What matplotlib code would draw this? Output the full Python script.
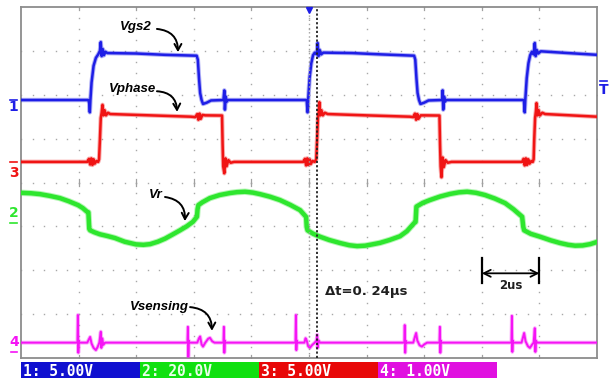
import matplotlib
matplotlib.use("Agg")
import matplotlib.pyplot as plt
from matplotlib.patches import Rectangle
from matplotlib.lines import Line2D

W, H, DPI = 614, 378, 100

# ---------------- scope settings ----------------
time_per_div = 2.0            # us / div
n_xdiv, n_ydiv = 10, 8
volts_per_div = {"1": 5.0, "2": 20.0, "3": 5.0, "4": 1.0}
ground_div = {"1": 1.88, "2": -0.81, "3": 0.47, "4": -3.65}
scale_labels = ["1: 5.00V", "2: 20.0V", "3: 5.00V", "4: 1.00V"]
trigger_t = 10.0              # us
cursor_t = 10.27              # us
delta_label = "\u0394t=0. 24\u00b5s"
span_label = "2us"
span_t = [16.0, 18.0]

# ---------------- Ch1 : Vgs2 ----------------
vgs2_t = [0.00, 2.34, 2.37, 2.39, 2.41, 2.45, 2.52, 2.60, 2.68, 2.74, 2.77, 2.80, 2.84, 2.88, 2.93, 3.00,
          4.00, 5.00, 6.10, 6.14, 6.18, 6.22, 6.27, 6.32, 6.45, 6.60, 7.03, 7.06, 7.08, 7.11, 7.14, 7.18,
          9.92, 9.95, 9.97, 10.02, 10.08, 10.14, 10.20, 10.27, 10.30, 10.33, 10.37, 10.42, 10.50,
          11.50, 12.50, 13.65, 13.69, 13.73, 13.77, 13.82, 13.87, 14.00, 14.15, 14.62, 14.64, 14.66, 14.69, 14.72, 14.76,
          17.46, 17.49, 17.51, 17.56, 17.62, 17.68, 17.74, 17.80, 17.84, 17.87, 17.91, 17.96, 18.05, 19.00, 20.00]
vgs2_v = [0.0, 0.0, -0.4, -1.4, 0.0, 2.0, 3.9, 4.8, 5.2, 5.6, 6.6, 5.0, 5.8, 5.1, 5.5, 5.35,
          5.3, 5.15, 5.05, 4.6, 2.5, 0.8, 0.0, -0.45, -0.3, -0.05, 0.0, 1.1, -1.1, 0.4, -0.2, 0.0,
          0.0, -1.4, 0.0, 2.5, 4.2, 5.1, 5.4, 5.2, 6.5, 5.0, 5.7, 5.2, 5.4,
          5.35, 5.2, 5.05, 4.6, 2.5, 0.8, 0.0, -0.45, -0.3, -0.05, 0.0, 1.1, -1.1, 0.4, -0.2, 0.0,
          0.0, -1.4, 0.0, 2.5, 4.2, 5.1, 5.5, 5.2, 6.5, 5.0, 5.7, 5.3, 5.55, 5.35, 5.15]

# ---------------- Ch3 : Vphase ----------------
vphase_t = [0.00, 2.30, 2.36, 2.40, 2.44, 2.48, 2.52, 2.56, 2.62, 2.68, 2.71, 2.74, 2.77, 2.80, 2.83, 2.86, 2.90, 2.95, 3.02, 3.10,
            4.50, 5.90, 6.05, 6.12, 6.16, 6.20, 6.24, 6.30, 6.40, 6.98, 7.00, 7.02, 7.06, 7.10, 7.14, 7.20, 7.28, 7.40,
            9.80, 9.86, 9.90, 9.94, 9.98, 10.02, 10.06, 10.12, 10.20, 10.25, 10.28, 10.31, 10.34, 10.36, 10.39, 10.43, 10.48, 10.55, 10.65,
            12.00, 13.50, 13.62, 13.68, 13.72, 13.76, 13.80, 13.88, 14.00, 14.53, 14.55, 14.57, 14.60, 14.64, 14.68, 14.74, 14.82, 14.95,
            17.40, 17.45, 17.49, 17.53, 17.57, 17.61, 17.66, 17.72, 17.77, 17.80, 17.82, 17.85, 17.88, 17.90, 17.93, 17.97, 18.02, 18.10, 18.20, 20.00]
vphase_v = [0.0, 0.0, 0.35, -0.3, 0.4, -0.35, 0.3, -0.2, 0.1, 0.0, 0.3, 2.5, 5.0, 5.6, 6.5, 5.3, 5.9, 5.3, 5.6, 5.45,
            5.3, 5.15, 5.1, 5.45, 4.8, 5.5, 4.9, 5.35, 5.3, 5.28, 2.0, -0.5, -1.3, 0.4, -0.5, 0.2, -0.1, 0.0,
            0.0, 0.35, -0.4, 0.4, -0.35, 0.3, -0.25, 0.1, 0.0, 0.3, 2.5, 5.0, 5.8, 6.8, 5.3, 5.9, 5.3, 5.6, 5.45,
            5.3, 5.15, 5.1, 5.5, 4.8, 5.45, 4.9, 5.3, 5.3, 5.28, 2.0, -0.5, -1.75, 0.5, -0.6, 0.2, -0.1, 0.0,
            0.0, 0.35, -0.4, 0.4, -0.35, 0.3, -0.2, 0.1, 0.0, 0.3, 2.5, 5.0, 5.8, 6.7, 5.3, 5.9, 5.3, 5.6, 5.45, 5.15]

# ---------------- Ch2 : Vr ----------------
vr_t = [0.00, 0.35, 0.66, 1.00, 1.35, 1.65, 1.98, 2.15, 2.29, 2.34, 2.37, 2.40,
        2.55, 2.74, 3.00, 3.26, 3.60, 3.99, 4.25, 4.48, 4.75, 5.00, 5.25, 5.52, 5.75, 5.97, 6.11, 6.13, 6.16,
        6.30, 6.56, 6.90, 7.26, 7.50, 7.78, 8.05, 8.30, 8.65, 8.99, 9.35, 9.69, 9.90, 9.92, 9.95,
        10.15, 10.38, 10.70, 11.08, 11.40, 11.67, 11.95, 12.20, 12.47, 12.80, 13.16, 13.40, 13.65, 13.70, 13.73,
        13.95, 14.20, 14.55, 14.90, 15.20, 15.49, 15.80, 16.11, 16.45, 16.81, 17.10, 17.40, 17.44, 17.47,
        17.70, 18.02, 18.40, 18.72, 19.00, 19.24, 19.50, 19.76, 20.00]
vr_v = [11.5, 11.3, 10.9, 10.1, 9.1, 7.7, 5.9, 4.5, 2.9, 2.6, -5.0, -5.6,
        -6.5, -7.4, -8.2, -9.1, -10.8, -12.0, -12.2, -11.9, -10.8, -9.4, -7.6, -5.6, -3.8, -1.7, 0.6, 4.0, 5.9,
        7.2, 9.1, 10.5, 11.4, 11.8, 12.0, 11.6, 10.9, 9.7, 8.2, 6.0, 3.6, 0.5, -4.0, -5.6,
        -7.2, -8.5, -10.0, -11.4, -12.4, -12.8, -12.6, -12.0, -11.3, -10.0, -8.3, -6.0, -2.3, -1.8, 5.2,
        6.9, 8.2, 9.8, 11.0, 11.7, 12.0, 11.5, 10.5, 8.9, 6.8, 4.0, 0.6, -4.0, -5.6,
        -7.2, -8.5, -10.2, -11.4, -12.2, -12.6, -12.5, -11.9, -10.9]

# ---------------- Ch4 : Vsensing ----------------
vsen_t = [0.00, 1.96, 1.975, 1.99, 2.005, 2.02,
          2.30, 2.36, 2.40, 2.45, 2.52, 2.60, 2.66, 2.72, 2.77, 2.79, 2.82, 2.86, 2.92,
          5.78, 5.795, 5.81, 5.825, 5.84,
          6.12, 6.18, 6.22, 6.27, 6.32, 6.40, 6.50, 6.56, 6.64, 6.72,
          7.03, 7.045, 7.06, 7.075, 7.09,
          9.53, 9.545, 9.56, 9.575, 9.59,
          9.84, 9.88, 9.92, 9.97, 10.03, 10.10, 10.20, 10.26, 10.285, 10.30, 10.33, 10.38,
          13.31, 13.325, 13.34, 13.355, 13.37,
          13.62, 13.68, 13.72, 13.76, 13.84, 13.92, 14.00, 14.10,
          14.53, 14.545, 14.56, 14.575, 14.59,
          17.03, 17.045, 17.06, 17.075, 17.09,
          17.38, 17.43, 17.47, 17.52, 17.60, 17.67, 17.74, 17.80, 17.84, 17.86, 17.88, 17.92, 20.00]
vsen_v = [0.0, 0.0, 0.63, -0.23, 0.05, 0.0,
          0.0, 0.08, 0.13, -0.02, -0.12, -0.17, -0.10, 0.0, 0.25, -0.12, 0.10, -0.05, 0.0,
          0.0, 0.36, -0.32, 0.05, 0.0,
          0.0, 0.10, 0.14, -0.04, -0.09, 0.0, 0.09, 0.11, 0.03, 0.0,
          0.0, 0.36, -0.23, 0.05, 0.0,
          0.0, 0.63, -0.17, 0.05, 0.0,
          0.0, 0.10, 0.05, -0.08, -0.12, -0.06, 0.0, 0.05, 0.18, -0.12, 0.05, 0.0,
          0.0, 0.40, -0.23, 0.05, 0.0,
          0.0, 0.14, 0.22, 0.05, -0.06, -0.09, -0.04, 0.0,
          0.0, 0.36, -0.23, 0.05, 0.0,
          0.0, 0.61, -0.21, 0.05, 0.0,
          0.0, 0.12, 0.22, 0.03, -0.08, -0.12, -0.05, 0.0, 0.33, -0.21, 0.05, 0.0, 0.0]

# ---------------- colours ----------------
c_blue, c_green, c_red, c_mag = "#1e1ee6", "#2ee62e", "#f01414", "#f514f5"
box_cols = ["#1010d0", "#10e010", "#e80808", "#e010e0"]
txt_cols = ["white", "#e8ffe8", "white", "white"]

# ---------------- figure ----------------
fig = plt.figure(figsize=(W / DPI, H / DPI), dpi=DPI)
fig.patch.set_facecolor("white")
L, B, AW, AH = 21, 20, 576, 351
ax = fig.add_axes([L / W, B / H, AW / W, AH / H])
xmax = n_xdiv * time_per_div
ax.set_xlim(0, xmax)
ax.set_ylim(-n_ydiv / 2, n_ydiv / 2)
ax.set_xticks([]); ax.set_yticks([])
for s in ax.spines.values():
    s.set_color("#8c8c8c"); s.set_linewidth(1.3)

def px(x, y):
    return x / W, 1 - y / H

# dotted graticule
gx, gy = [], []
for i in range(1, n_xdiv):
    for k in range(0, n_ydiv * 4 + 1):
        gx.append(i * time_per_div); gy.append(-n_ydiv / 2 + k * 0.25)
for j in range(1, n_ydiv):
    for k in range(0, n_xdiv * 5 + 1):
        gx.append(k * time_per_div / 5); gy.append(-n_ydiv / 2 + j)
ax.plot(gx, gy, ls="none", marker="s", ms=1.0, mec="none", mfc="#a8a8a8", zorder=1)
for i in range(1, n_xdiv):
    t = i * time_per_div
    ax.plot([t, t], [-0.07, 0.07], color="#a0a0a0", lw=0.9, zorder=1)
    ax.plot([t, t], [-4, -3.93], color="#a0a0a0", lw=0.9, zorder=1)
    ax.plot([t, t], [4, 3.93], color="#a0a0a0", lw=0.9, zorder=1)

def to_div(vals, ch):
    return [ground_div[ch] + v / volts_per_div[ch] for v in vals]

def trace(t, v, ch, color, lw):
    y = to_div(v, ch)
    ax.plot(t, y, color=color, lw=lw + 1.4, alpha=0.35, solid_joinstyle="round", zorder=3)
    ax.plot(t, y, color=color, lw=lw, solid_joinstyle="round", zorder=4)

trace(vr_t, vr_v, "2", c_green, 3.2)
trace(vgs2_t, vgs2_v, "1", c_blue, 1.8)
trace(vphase_t, vphase_v, "3", c_red, 1.8)
trace(vsen_t, vsen_v, "4", c_mag, 1.4)

# trigger and cursor
ax.plot([trigger_t, trigger_t], [-4, 4], color="#a0a0a0", lw=1.0, ls=(0, (1, 2)), zorder=5)
ax.plot([cursor_t, cursor_t], [-4, 4], color="#202020", lw=1.3, ls=(0, (1.2, 1.2)), zorder=6)
ax.plot([trigger_t], [3.93], marker="v", ms=4.5, color=c_blue, mec=c_blue, zorder=7, clip_on=False)

# annotations
ann_font = dict(family="Liberation Sans", weight="bold", style="italic", size=9.5, color="black")
aprops = dict(arrowstyle="->,head_length=0.45,head_width=0.25", lw=1.4, color="black",
              shrinkA=0, shrinkB=0, connectionstyle="arc3,rad=-0.45")
ax.text(3.99, 3.54, "Vgs2", ha="center", va="center", **ann_font)
ax.annotate("", xy=(5.45, 2.97), xytext=(4.72, 3.50), arrowprops=aprops)
ax.text(3.87, 2.13, "Vphase", ha="center", va="center", **ann_font)
ax.annotate("", xy=(5.42, 1.61), xytext=(4.72, 2.08), arrowprops=aprops)
ax.text(4.67, -0.28, "Vr", ha="center", va="center", **ann_font)
ax.annotate("", xy=(5.69, -0.88), xytext=(5.00, -0.33), arrowprops=aprops)
ax.text(4.79, -2.83, "Vsensing", ha="center", va="center", **ann_font)
ax.annotate("", xy=(6.63, -3.38), xytext=(5.87, -2.84), arrowprops=aprops)

ax.text(10.56, -2.49, delta_label, ha="left", va="center", family="DejaVu Sans",
        weight="bold", size=9.5, color="#202020", zorder=8)
ax.annotate("", xy=(span_t[0], -2.07), xytext=(span_t[1], -2.07),
            arrowprops=dict(arrowstyle="<->,head_length=0.5,head_width=0.25", lw=1.3,
                            color="black", shrinkA=0, shrinkB=0))
for t in span_t:
    ax.plot([t, t], [-1.72, -2.29], color="black", lw=1.6)
ax.text(sum(span_t) / 2, -2.35, span_label, ha="center", va="center", family="DejaVu Sans",
        weight="bold", size=8.5, color="#202020")

# channel markers
mk_font = dict(family="DejaVu Sans", weight="bold", size=10, ha="center", va="center")
fig.text(*px(13.5, 107), "1", color=c_blue, **mk_font)
fig.add_artist(Line2D([10 / W, 17 / W], [1 - 99.5 / H] * 2, color=c_blue, lw=1.2))
fig.text(*px(13.5, 173), "3", color=c_red, **mk_font)
fig.add_artist(Line2D([10 / W, 17 / W], [1 - 162 / H] * 2, color=c_red, lw=1.2))
fig.text(*px(13.5, 213), "2", color=c_green, **mk_font)
fig.add_artist(Line2D([10 / W, 17 / W], [1 - 222.5 / H] * 2, color=c_green, lw=1.2))
fig.text(*px(14.5, 342), "4", color=c_mag, **mk_font)
fig.add_artist(Line2D([11 / W, 17 / W], [1 - 352 / H] * 2, color=c_mag, lw=1.2))
fig.text(*px(603.5, 90.5), "T", color=c_blue, **mk_font)
fig.add_artist(Line2D([600 / W, 607 / W], [1 - 80.5 / H] * 2, color=c_blue, lw=1.2))

# scale boxes at bottom
bx0, bw, by0, bh = 21, 119, 362, 16
for i, (lab, bc, tc) in enumerate(zip(scale_labels, box_cols, txt_cols)):
    x0 = bx0 + i * bw
    fig.add_artist(Rectangle((x0 / W, 1 - (by0 + bh) / H), bw / W, bh / H,
                             transform=fig.transFigure, facecolor=bc, edgecolor="none"))
    fig.text(*px(x0 + 2, by0 + bh / 2 + 1), lab, color=tc, family="DejaVu Sans Mono",
             weight="bold", size=10.5, ha="left", va="center")

fig.savefig("out.png", dpi=DPI)
